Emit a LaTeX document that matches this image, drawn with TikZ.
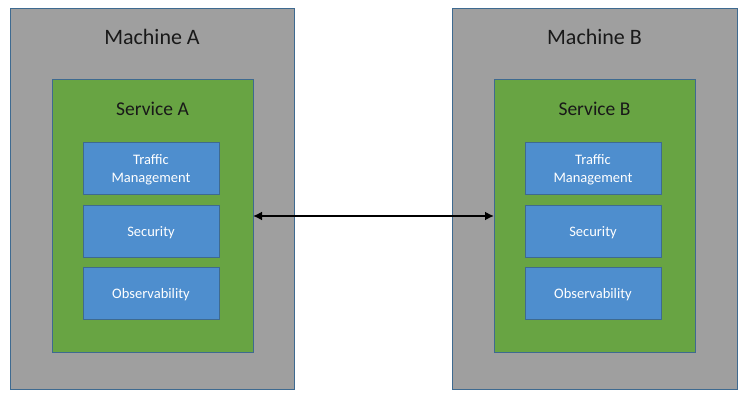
\documentclass[tikz,border=0pt]{standalone}
\usepackage{fontspec}
\setmainfont{Carlito}
\usetikzlibrary{arrows.meta}
\definecolor{mgray}{HTML}{9F9F9F}
\definecolor{sgreen}{HTML}{68A443}
\definecolor{fblue}{HTML}{4E8ECE}
\definecolor{edgec}{HTML}{3E6A90}
\tikzset{
  machinebox/.style={draw=edgec, fill=mgray, line width=0.7pt},
  servicebox/.style={draw=edgec, fill=sgreen, line width=0.7pt},
  featurebox/.style={draw=edgec, fill=fblue, line width=0.7pt,
    minimum width=136pt, minimum height=52pt},
  featuretext/.style={text=white, font=\fontsize{14.5}{18}\selectfont, align=center},
  machinelabel/.style={font=\fontsize{22}{26}\selectfont, text=black!90},
  servicelabel/.style={font=\fontsize{19.5}{23}\selectfont, text=black!90},
  link/.style={line width=2.6pt, {Latex[length=9pt,width=9pt]}-{Latex[length=9pt,width=9pt]}}
}
\begin{document}
\begin{tikzpicture}[x=1pt,y=-1pt]
\useasboundingbox[fill=white] (0,0) rectangle (747,401);
% Machine A
\draw[machinebox] (10,8) rectangle (294,389);
\node[machinelabel] (mA) at (152,37) {Machine A};
\draw[servicebox] (52,79) rectangle (253,352);
\coordinate (sAr) at (253,216);
\node[servicelabel] (sA) at (152.5,108.5) {Service A};
\node[featurebox] (tA) at (151,168) {};
\node[featuretext] (tAt) at ([yshift=-1.5pt]tA.center) {Traffic\\Management};
\node[featurebox] (secA) at (151,231) {};
\node[featuretext] (secAt) at ([yshift=-1.5pt]secA.center) {Security};
\node[featurebox] (obA) at (151,293) {};
\node[featuretext] (obAt) at ([yshift=-1.5pt]obA.center) {Observability};
% Machine B
\draw[machinebox] (452,8) rectangle (737,389);
\node[machinelabel] (mB) at (594.5,37) {Machine B};
\draw[servicebox] (494,79) rectangle (695,352);
\coordinate (sBl) at (494,216);
\node[servicelabel] (sB) at (594.5,108.5) {Service B};
\node[featurebox] (tB) at (593,168) {};
\node[featuretext] (tBt) at ([yshift=-1.5pt]tB.center) {Traffic\\Management};
\node[featurebox] (secB) at (593,231) {};
\node[featuretext] (secBt) at ([yshift=-1.5pt]secB.center) {Security};
\node[featurebox] (obB) at (593,293) {};
\node[featuretext] (obBt) at ([yshift=-1.5pt]obB.center) {Observability};
% link
\draw[link] (sAr) -- (sBl);
\end{tikzpicture}
\end{document}
